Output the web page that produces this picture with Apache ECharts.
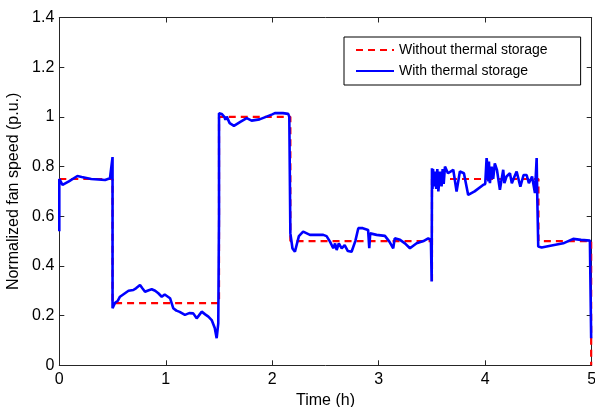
<!DOCTYPE html>
<html><head><meta charset="utf-8">
<script src="https://cdn.jsdelivr.net/npm/echarts@6/dist/echarts.min.js"></script>
<style>html,body{margin:0;padding:0;background:#fff}#c{width:595px;height:407px}</style>
</head><body><div id="c"></div>
<script>
var seriesNames = ['Without thermal storage', 'With thermal storage'];
var xTicks = [0, 1, 2, 3, 4, 5];
var yTicks = [0, 0.2, 0.4, 0.6, 0.8, 1, 1.2, 1.4];
var withoutStorage = [[0,0.75],[0.5,0.75],[0.5,0.25],[1.5,0.25],[1.5,1.0],[2.17,1.0],[2.17,0.5],[3.5,0.5],[3.5,0.33],[3.5,0.75],[4.5,0.75],[4.5,0.5],[4.995,0.5],[4.995,0]];
var withStorage = [[0,0.54],[0,0.75],[0.03,0.726],[0.09,0.74],[0.17,0.762],[0.21,0.758],[0.3,0.75],[0.43,0.746],[0.476,0.753],[0.49,0.745],[0.5,0.838],[0.5,0.23],[0.51,0.235],[0.524,0.252],[0.55,0.26],[0.57,0.276],[0.6,0.285],[0.617,0.29],[0.65,0.3],[0.695,0.303],[0.72,0.31],[0.758,0.323],[0.78,0.31],[0.805,0.296],[0.84,0.302],[0.868,0.306],[0.9,0.3],[0.93,0.29],[0.962,0.276],[0.99,0.285],[1.008,0.287],[1.04,0.27],[1.07,0.23],[1.1,0.22],[1.13,0.215],[1.18,0.203],[1.22,0.21],[1.258,0.209],[1.29,0.189],[1.31,0.2],[1.337,0.216],[1.37,0.205],[1.40,0.196],[1.431,0.182],[1.46,0.15],[1.478,0.109],[1.493,0.169],[1.5,0.6],[1.5,1.015],[1.525,1.012],[1.55,1.0],[1.56,0.988],[1.572,1.001],[1.6,0.975],[1.64,0.964],[1.7,0.98],[1.76,0.995],[1.806,0.985],[1.88,0.99],[1.947,1.001],[2.0,1.01],[2.025,1.015],[2.1,1.015],[2.15,1.012],[2.16,1.0],[2.17,0.531],[2.19,0.47],[2.213,0.457],[2.25,0.52],[2.29,0.538],[2.354,0.525],[2.479,0.525],[2.51,0.52],[2.542,0.498],[2.573,0.471],[2.59,0.49],[2.605,0.464],[2.625,0.491],[2.652,0.471],[2.68,0.484],[2.71,0.46],[2.745,0.457],[2.78,0.5],[2.808,0.552],[2.85,0.552],[2.9,0.545],[2.911,0.471],[2.92,0.531],[2.98,0.525],[3.058,0.521],[3.1,0.498],[3.136,0.471],[3.15,0.511],[3.2,0.505],[3.246,0.491],[3.293,0.471],[3.356,0.491],[3.42,0.5],[3.465,0.511],[3.49,0.505],[3.497,0.337],[3.5,0.793],[3.505,0.71],[3.51,0.79],[3.52,0.72],[3.53,0.78],[3.54,0.71],[3.55,0.79],[3.56,0.7],[3.575,0.78],[3.59,0.72],[3.6,0.79],[3.61,0.73],[3.622,0.8],[3.65,0.773],[3.70,0.787],[3.731,0.699],[3.762,0.78],[3.8,0.773],[3.84,0.686],[3.9,0.7],[3.98,0.726],[4.0,0.73],[4.013,0.834],[4.02,0.807],[4.03,0.74],[4.035,0.82],[4.044,0.733],[4.06,0.8],[4.075,0.75],[4.09,0.813],[4.11,0.787],[4.138,0.706],[4.169,0.787],[4.18,0.733],[4.2,0.76],[4.232,0.773],[4.25,0.733],[4.275,0.76],[4.295,0.78],[4.31,0.773],[4.33,0.719],[4.36,0.766],[4.389,0.766],[4.41,0.733],[4.44,0.76],[4.467,0.693],[4.483,0.834],[4.49,0.652],[4.498,0.478],[4.53,0.474],[4.6,0.48],[4.733,0.491],[4.826,0.509],[4.9,0.505],[4.983,0.502],[4.99,0.5],[4.995,0.109]];

var font = 'Liberation Sans, Arial, sans-serif';
var axisColor = '#262626';
var chart = echarts.init(document.getElementById('c'), null, {renderer: 'canvas'});
function xAxisDef(pos, showLabel) {
  return {type: 'value', min: xTicks[0], max: xTicks[xTicks.length-1], interval: 1, position: pos,
    axisLine: {show: true, onZero: false, lineStyle: {color: axisColor, width: 1}},
    axisTick: {show: true, inside: true, length: 5, lineStyle: {color: axisColor}},
    axisLabel: {show: showLabel, color: '#000', fontFamily: font, fontSize: 16, margin: 6},
    splitLine: {show: false},
    name: showLabel ? 'Time (h)' : '', nameLocation: 'middle', nameGap: 21,
    nameTextStyle: {color: '#000', fontFamily: font, fontSize: 16}};
}
function yAxisDef(pos, showLabel) {
  return {type: 'value', min: yTicks[0], max: yTicks[yTicks.length-1], interval: 0.2, position: pos,
    axisLine: {show: true, onZero: false, lineStyle: {color: axisColor, width: 1}},
    axisTick: {show: true, inside: true, length: 5, lineStyle: {color: axisColor}},
    axisLabel: {show: showLabel, color: '#000', fontFamily: font, fontSize: 16, margin: 5},
    splitLine: {show: false},
    name: showLabel ? 'Normalized fan speed (p.u.)' : '', nameLocation: 'middle', nameGap: 29, nameRotate: 90,
    nameTextStyle: {color: '#000', fontFamily: font, fontSize: 16}};
}
chart.setOption({
  animation: false,
  backgroundColor: '#fff',
  grid: {left: 59.3, right: 3.3, top: 17.5, bottom: 41.7, containLabel: false, outerBoundsMode: 'none'},
  xAxis: [xAxisDef('bottom', true), xAxisDef('top', false)],
  yAxis: [yAxisDef('left', true), yAxisDef('right', false)],
  legend: {
    left: 344, top: 37, orient: 'vertical',
    data: seriesNames,
    backgroundColor: '#fff', borderColor: '#000', borderWidth: 1, borderRadius: 0,
    padding: [6, 33, 7, 11], itemGap: 7, itemWidth: 38, itemHeight: 14,
    itemStyle: {opacity: 0},
    textStyle: {color: '#000', fontFamily: font, fontSize: 14}
  },
  series: [
    {name: seriesNames[0], type: 'line', data: withoutStorage, showSymbol: false, symbol: 'none',
     lineStyle: {color: '#ff0000', width: 2.2, type: [7, 5]}, itemStyle: {color: '#ff0000'}, z: 2},
    {name: seriesNames[1], type: 'line', data: withStorage, showSymbol: false, symbol: 'none',
     lineStyle: {color: '#0000ff', width: 2.6, type: 'solid'}, itemStyle: {color: '#0000ff'}, z: 3}
  ]
});
</script></body></html>
